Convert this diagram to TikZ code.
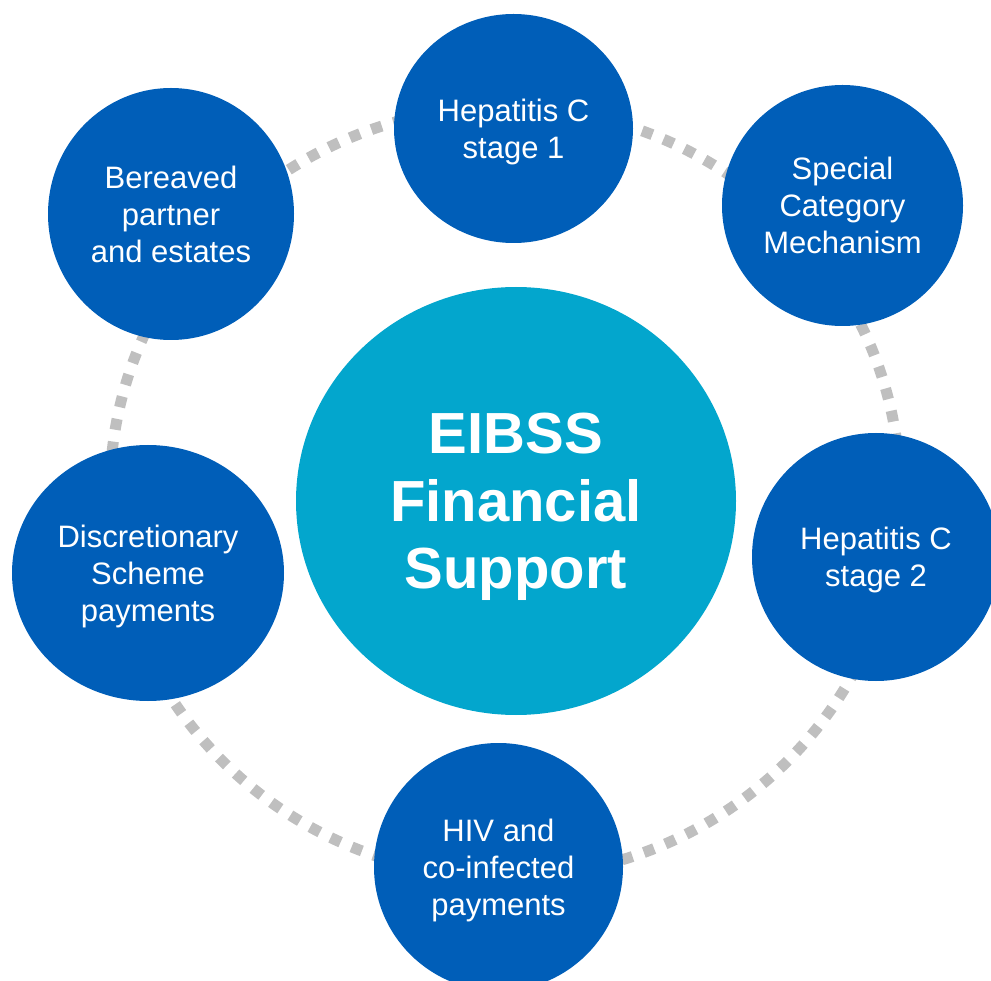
\documentclass[tikz,border=0pt]{standalone}
\usepackage{fontspec}
\setmainfont{Liberation Sans}
\usepackage{tikz}
\usetikzlibrary{shapes.geometric,positioning}

\definecolor{nhsblue}{HTML}{005EB8}
\definecolor{hubblue}{HTML}{03A6CD}
\definecolor{ringgrey}{HTML}{BFBFBF}

\tikzset{
  petal/.style={ellipse, fill=nhsblue, text=white, inner sep=0pt,
    align=center, text depth=0pt, font=\fontsize{31}{37}\selectfont},
  hub/.style={ellipse, fill=hubblue, text=white, inner sep=0pt,
    align=center, text depth=0pt, font=\fontsize{58}{67.5}\selectfont\bfseries},
  ring/.style={draw=ringgrey, line width=11pt, dash pattern=on 11pt off 12pt}
}

\begin{document}
\begin{tikzpicture}[x=1pt, y=-1pt]

    \useasboundingbox (0,0) rectangle (991,981);

    % dotted ring behind the circles
    \coordinate (ringcentre) at (505,492);
    \draw[ring] (ringcentre) ellipse [x radius=395, y radius=385];

    \node[hub, minimum width=440, minimum height=428] (hub) at (516,501)
    {EIBSS\\Financial\\Support};

    \node[petal, minimum width=239, minimum height=229] (hepc1) at (513.5,128.5)
    {Hepatitis C\\stage 1};
    \node[petal, minimum width=241, minimum height=241] (special) at (842.5,205.5)
    {Special\\Category\\Mechanism};
    \node[petal, minimum width=248, minimum height=248] (hepc2) at (876,557)
    {Hepatitis C\\stage 2};
    \node[petal, minimum width=249, minimum height=248] (hiv) at (498.5,867)
    {HIV and\\co-infected\\payments};
    \node[petal, minimum width=272, minimum height=256] (discretionary) at (148,573)
    {Discretionary\\Scheme\\payments};
    \node[petal, minimum width=246, minimum height=252] (bereaved) at (171,214)
    {Bereaved\\partner\\and estates};

  \end{tikzpicture}
\end{document}
